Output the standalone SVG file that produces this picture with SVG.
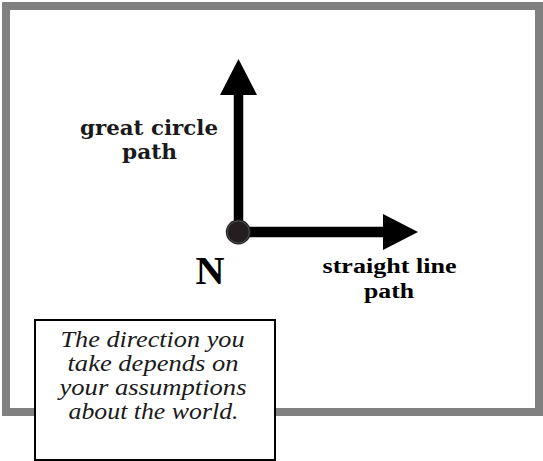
<svg xmlns="http://www.w3.org/2000/svg" width="543" height="461" viewBox="0 0 543 461">
  <style>
    .frame { fill: #ffffff; stroke: #808080; stroke-width: 8; }
    .shaft { stroke: #000000; fill: none; }
    .head { fill: #000000; stroke: none; }
    .label-b { font-family: "DejaVu Serif", "Liberation Serif", serif; font-weight: bold; font-size: 21px; fill: #1a1a1a; text-anchor: middle; }
    .label-t { font-family: "Liberation Serif", "Times New Roman", serif; font-weight: bold; font-size: 20px; fill: #000000; text-anchor: middle; }
    .note { font-family: "Liberation Serif", "Times New Roman", serif; font-style: italic; font-size: 23px; fill: #1a1a1a; text-anchor: middle; }
    .note-box { fill: #ffffff; stroke: #000000; stroke-width: 2; }
  </style>

  <g id="frame">
    <rect class="frame" x="6" y="6" width="533" height="406"/>
  </g>

  <g id="connectors">
    <g id="great-circle-arrow">
      <line class="shaft" x1="238.5" y1="232" x2="238.5" y2="94" stroke-width="9.5"/>
      <polygon class="head" points="238.5,59 220,95 257,95"/>
    </g>
    <g id="straight-line-arrow">
      <line class="shaft" x1="238" y1="232" x2="384" y2="232" stroke-width="10.5"/>
      <polygon class="head" points="383,214 418,232 383,250"/>
    </g>
  </g>

  <g id="node-N">
    <circle cx="238.3" cy="232" r="12.5" fill="#231f20"/>
    <circle cx="238.3" cy="232" r="11" fill="none" stroke="#6e6e6e" stroke-width="0.6"/>
    <text x="210" y="284" font-family="'Liberation Serif', 'Times New Roman', serif" font-weight="bold" font-size="40" text-anchor="middle" fill="#000000" textLength="29" lengthAdjust="spacingAndGlyphs">N</text>
  </g>

  <g id="label-great-circle">
    <text class="label-b" x="149" y="135" textLength="138" lengthAdjust="spacingAndGlyphs">great circle</text>
    <text class="label-b" x="149.5" y="159" textLength="55" lengthAdjust="spacingAndGlyphs">path</text>
  </g>

  <g id="label-straight-line">
    <text class="label-t" x="389.5" y="273" textLength="134" lengthAdjust="spacingAndGlyphs">straight line</text>
    <text class="label-t" x="389" y="298" textLength="50" lengthAdjust="spacingAndGlyphs">path</text>
  </g>

  <g id="note">
    <rect class="note-box" x="35" y="320" width="240" height="140"/>
    <text class="note" x="152.5" y="347" textLength="184" lengthAdjust="spacingAndGlyphs">The direction you</text>
    <text class="note" x="153" y="371" textLength="171" lengthAdjust="spacingAndGlyphs">take depends on</text>
    <text class="note" x="153" y="395" textLength="187" lengthAdjust="spacingAndGlyphs">your assumptions</text>
    <text class="note" x="153.5" y="419" textLength="170" lengthAdjust="spacingAndGlyphs">about the world.</text>
  </g>
</svg>
